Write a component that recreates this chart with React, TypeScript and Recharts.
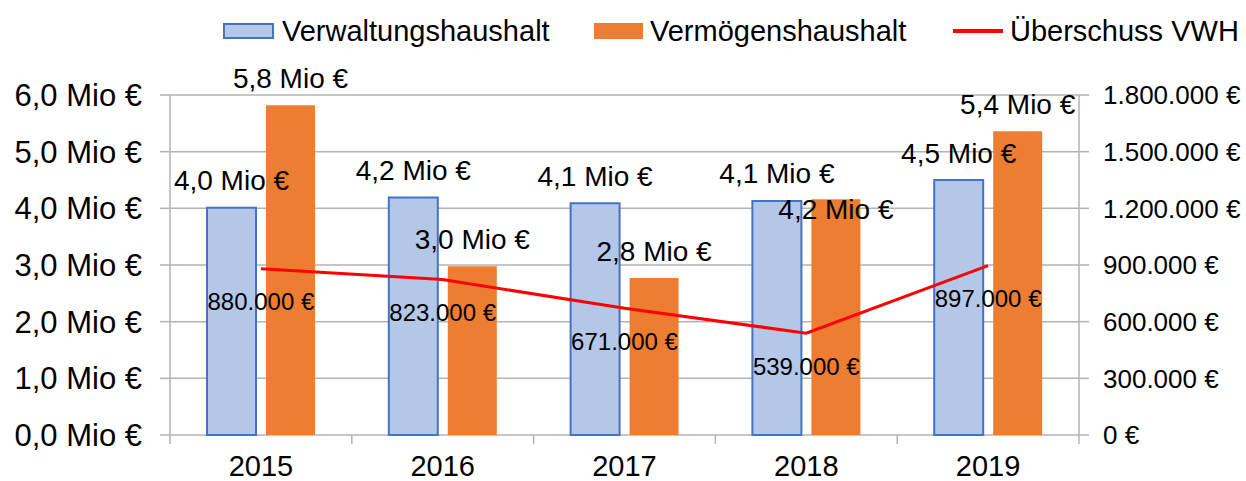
import { ComposedChart, Bar, Line, XAxis, YAxis, CartesianGrid, LabelList } from 'recharts';

const years = ['2015', '2016', '2017', '2018', '2019'];
// Mio €
const verwaltung = [4.01, 4.19, 4.09, 4.13, 4.5];
const vermoegen = [5.82, 2.98, 2.77, 4.16, 5.36];
// €
const ueberschuss = [880000, 823000, 671000, 539000, 897000];

const leftTicks = [0, 1, 2, 3, 4, 5, 6];
const rightTicks = [0, 300000, 600000, 900000, 1200000, 1500000, 1800000];

const W = 1246;
const H = 481;
const LEFT_W = 170;
const RIGHT_W = 167;
const X_H = 46;
const TOP = 95;
const PLOT_BOTTOM = H - X_H;
const BAND = (W - LEFT_W - RIGHT_W) / years.length;

const FONT = '"Liberation Sans", Arial, sans-serif';
const GRID = '#b3b3b3';

const data = years.map((year, i) => ({
  year,
  verwaltung: verwaltung[i],
  vermoegen: vermoegen[i],
  ueberschuss: ueberschuss[i],
}));

const fmtMio = (v: number) => `${v.toFixed(1).replace('.', ',')} Mio €`;
const fmtEur = (v: number) => `${String(Math.round(v)).replace(/\B(?=(\d{3})+(?!\d))/g, '.')} €`;

// Excel placed the 2018 Vermögenshaushalt label inside the bar
const vermLabelShift: Record<number, number> = { 3: 37 };

const BarLabel = (props: any) => {
  const { x, y, width, value, index, shift } = props;
  const dy = shift ? shift[index] || 0 : 0;
  return (
    <text x={x + width / 2} y={y - 27 + dy} textAnchor="middle" dominantBaseline="central"
      fontSize={28} fontFamily={FONT} fill="#000">
      {fmtMio(value)}
    </text>
  );
};

const LineLabel = (props: any) => {
  const { x, y, value } = props;
  return (
    <text x={x} y={y + 33} textAnchor="middle" dominantBaseline="central"
      fontSize={24} fontFamily={FONT} fill="#000">
      {fmtEur(value)}
    </text>
  );
};

const YearTick = (props: any) => {
  const { x, payload, index } = props;
  return (
    <g>
      <line x1={x - BAND / 2} x2={x - BAND / 2} y1={PLOT_BOTTOM} y2={PLOT_BOTTOM + 9} stroke={GRID} strokeWidth={1.5} />
      {index === years.length - 1 && (
        <line x1={x + BAND / 2} x2={x + BAND / 2} y1={PLOT_BOTTOM} y2={PLOT_BOTTOM + 9} stroke={GRID} strokeWidth={1.5} />
      )}
      <text x={x} y={PLOT_BOTTOM + 31} textAnchor="middle" dominantBaseline="central"
        fontSize={29} fontFamily={FONT} fill="#000">
        {payload.value}
      </text>
    </g>
  );
};

const legendText = { position: 'absolute' as const, top: 12, fontSize: 29, fontFamily: FONT, lineHeight: '38px', color: '#000', whiteSpace: 'nowrap' as const };

export default function App() {
  return (
    <div style={{ position: 'relative', width: W, height: H, background: '#fff' }}>
      <style>{'body{margin:0}'}</style>
      <div style={{ position: 'absolute', left: 223, top: 23, width: 51, height: 16, boxSizing: 'border-box', background: '#b4c7e7', border: '2px solid #4472c4' }} />
      <div style={{ ...legendText, left: 282 }}>Verwaltungshaushalt</div>
      <div style={{ position: 'absolute', left: 594, top: 23, width: 49, height: 16, background: '#ed7d31' }} />
      <div style={{ ...legendText, left: 650 }}>Vermögenshaushalt</div>
      <div style={{ position: 'absolute', left: 953, top: 29, width: 50, height: 4, background: '#ff0000' }} />
      <div style={{ ...legendText, left: 1010 }}>Überschuss VWH</div>
      <ComposedChart width={W} height={H} data={data} margin={{ top: TOP, right: 0, left: 0, bottom: 0 }}
        barGap={10} style={{ position: 'absolute', left: 0, top: 0 }}>
        <CartesianGrid yAxisId="left" vertical={false} stroke={GRID} strokeWidth={1.5} />
        <XAxis dataKey="year" height={X_H} axisLine={false} tickLine={false} tick={<YearTick />} interval={0} />
        <YAxis yAxisId="left" width={LEFT_W} domain={[0, 6]} ticks={leftTicks} tickFormatter={fmtMio}
          tick={{ fontSize: 31, fontFamily: FONT, fill: '#000' }} tickSize={10} tickMargin={18}
          axisLine={{ stroke: GRID, strokeWidth: 1.5 }} tickLine={{ stroke: GRID, strokeWidth: 1.5 }} />
        <YAxis yAxisId="right" orientation="right" width={RIGHT_W} domain={[0, 1800000]} ticks={rightTicks}
          tickFormatter={fmtEur} tick={{ fontSize: 26, fontFamily: FONT, fill: '#000' }} tickSize={10} tickMargin={14}
          axisLine={{ stroke: GRID, strokeWidth: 1.5 }} tickLine={{ stroke: GRID, strokeWidth: 1.5 }} />
        <Bar yAxisId="left" dataKey="verwaltung" barSize={49} fill="#b4c7e7" stroke="#4472c4" strokeWidth={2}
          isAnimationActive={false}>
          <LabelList dataKey="verwaltung" content={<BarLabel />} />
        </Bar>
        <Bar yAxisId="left" dataKey="vermoegen" barSize={49} fill="#ed7d31" isAnimationActive={false}>
          <LabelList dataKey="vermoegen" content={<BarLabel shift={vermLabelShift} />} />
        </Bar>
        <Line yAxisId="right" dataKey="ueberschuss" type="linear" stroke="#ff0000" strokeWidth={3} dot={false}
          isAnimationActive={false}>
          <LabelList dataKey="ueberschuss" content={<LineLabel />} />
        </Line>
      </ComposedChart>
    </div>
  );
}
